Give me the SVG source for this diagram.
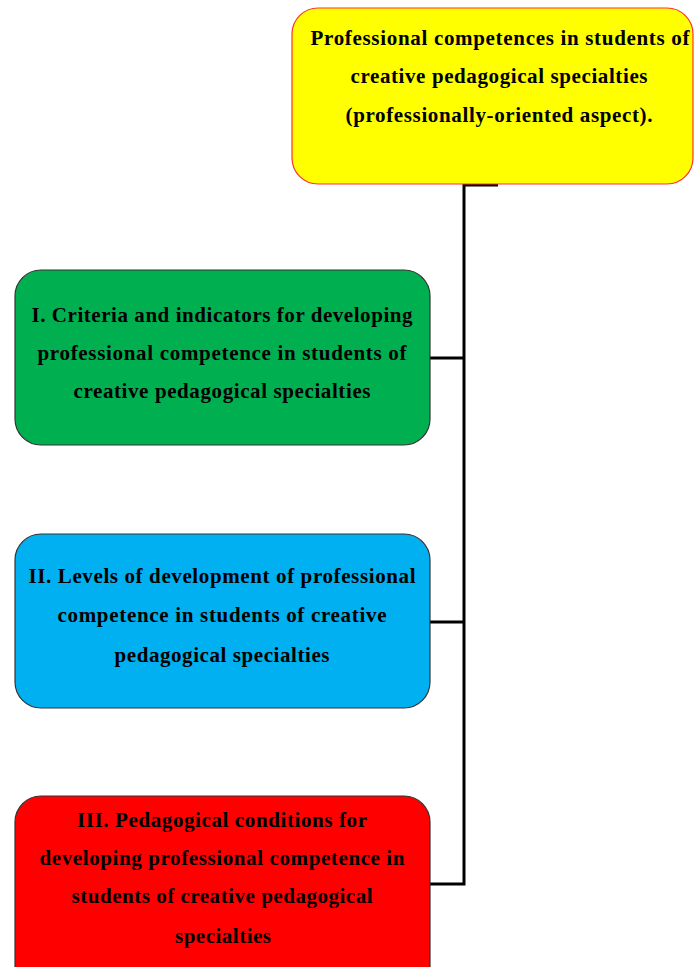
<svg xmlns="http://www.w3.org/2000/svg" width="694" height="967" viewBox="0 0 694 967">
<style>
.box{stroke-width:1.2}
.t{font-family:"Liberation Serif","Times New Roman",serif;font-weight:bold;font-size:21px;fill:#000;text-anchor:middle}
.c{fill:none;stroke:#000;stroke-width:3}
</style>
<rect width="694" height="967" fill="#fff"/>
<g id="connectors">
<polyline class="c" points="498,185 464,185 464,884 430,884"/>
<line class="c" x1="430" y1="358" x2="464" y2="358"/>
<line class="c" x1="430" y1="622" x2="464" y2="622"/>
</g>
<g id="top">
<rect class="box" x="292" y="8" width="401" height="176" rx="26" fill="#ffff00" stroke="#ff3030"/>
<text class="t" x="500" y="45" textLength="379" lengthAdjust="spacing">Professional competences in students of</text>
<text class="t" x="499" y="83" textLength="297" lengthAdjust="spacing">creative pedagogical specialties</text>
<text class="t" x="499" y="122" textLength="307" lengthAdjust="spacing">(professionally-oriented aspect).</text>
</g>
<g id="criteria">
<rect class="box" x="15" y="270" width="415" height="175" rx="26" fill="#00b050" stroke="#333"/>
<text class="t" x="222" y="322" textLength="381" lengthAdjust="spacing">I. Criteria and indicators for developing</text>
<text class="t" x="222" y="360" textLength="369" lengthAdjust="spacing">professional competence in students of</text>
<text class="t" x="222" y="398" textLength="297" lengthAdjust="spacing">creative pedagogical specialties</text>
</g>
<g id="levels">
<rect class="box" x="15" y="534" width="415" height="174" rx="26" fill="#00b0f0" stroke="#333"/>
<text class="t" x="222" y="583" textLength="387" lengthAdjust="spacing">II. Levels of development of professional</text>
<text class="t" x="222" y="622" textLength="329" lengthAdjust="spacing">competence in students of creative</text>
<text class="t" x="222" y="662" textLength="215" lengthAdjust="spacing">pedagogical specialties</text>
</g>
<g id="conditions">
<rect class="box" x="15" y="796" width="415" height="200" rx="26" fill="#ff0000" stroke="#333"/>
<text class="t" x="222" y="827" textLength="290" lengthAdjust="spacing">III. Pedagogical conditions for</text>
<text class="t" x="222" y="865" textLength="365" lengthAdjust="spacing">developing professional competence in</text>
<text class="t" x="222" y="903" textLength="301" lengthAdjust="spacing">students of creative pedagogical</text>
<text class="t" x="223" y="943" textLength="96" lengthAdjust="spacing">specialties</text>
</g>
</svg>
